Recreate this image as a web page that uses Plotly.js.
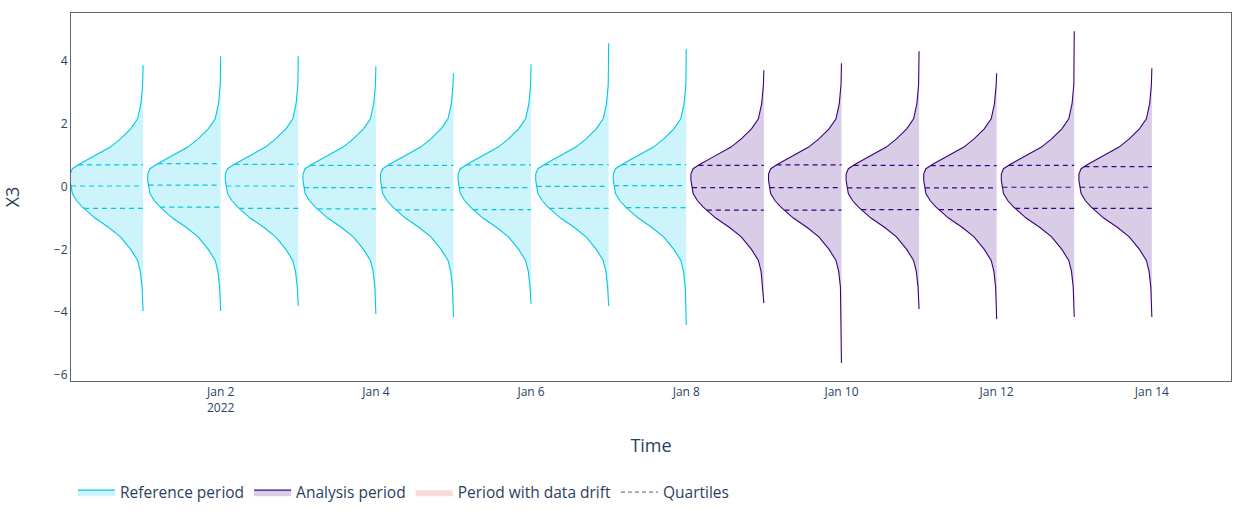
<!DOCTYPE html>
<html>
<head>
<meta charset="utf-8">
<script src="https://cdn.plot.ly/plotly-3.0.1.min.js"></script>
<style>
  html, body { margin: 0; padding: 0; background: #fff; }
  #chart { width: 1246px; height: 511px; }
</style>
</head>
<body>
<div id="chart"></div>
<script>
// chunk dates and which period each chunk belongs to
const chunkDates = [
    '2022-01-01', '2022-01-02', '2022-01-03', '2022-01-04', '2022-01-05',
    '2022-01-06', '2022-01-07', '2022-01-08', '2022-01-09', '2022-01-10',
    '2022-01-11', '2022-01-12', '2022-01-13', '2022-01-14'
];
const chunkPeriod = [
    'reference', 'reference', 'reference', 'reference', 'reference',
    'reference', 'reference', 'reference', 'analysis', 'analysis',
    'analysis', 'analysis', 'analysis', 'analysis'
];

// per chunk summary of X3
const minValues = [-3.96, -3.96, -3.80, -4.06, -4.15, -3.74, -3.80, -4.41, -3.71, -5.62, -3.90, -4.22, -4.15, -4.15];
const maxValues = [3.87, 4.15, 4.15, 3.83, 3.61, 3.90, 4.57, 4.38, 3.71, 3.93, 4.31, 3.61, 4.95, 3.77];
const q1Values = [-0.69, -0.65, -0.69, -0.71, -0.74, -0.73, -0.69, -0.67, -0.75, -0.75, -0.73, -0.73, -0.69, -0.69];
const medianValues = [0.02, 0.05, 0.02, -0.03, -0.03, -0.03, 0.01, 0.03, -0.03, -0.03, -0.04, -0.04, -0.02, -0.02];
const q3Values = [0.69, 0.73, 0.71, 0.68, 0.68, 0.69, 0.70, 0.70, 0.68, 0.69, 0.68, 0.67, 0.68, 0.64];

// density profile of the kde (relative width, 1 = widest)
const densityY = [-3.2, -2.7, -2.35, -2.0, -1.6, -1.3, -1.0, -0.65, -0.45, -0.22, 0.2, 0.4, 0.57, 0.72, 0.94, 1.26, 1.52, 1.84, 2.16, 2.64, 3.25];
const densityWidth = [0.014, 0.038, 0.075, 0.17, 0.31, 0.47, 0.66, 0.83, 0.91, 0.97, 1.0, 1.0, 0.97, 0.87, 0.70, 0.45, 0.31, 0.17, 0.075, 0.03, 0.006];

const DAY = 24 * 60 * 60 * 1000;
const violinWidth = 0.94 * DAY;

const periods = {
    reference: { name: 'Reference period', line: '#00c8e5', fill: 'rgba(0,200,229,0.2)' },
    analysis: { name: 'Analysis period', line: '#3b0280', fill: 'rgba(59,2,128,0.2)' }
};

function widthAt(y) {
    if (y <= densityY[0]) return densityWidth[0];
    for (let i = 1; i < densityY.length; i++) {
        if (y <= densityY[i]) {
            let t = (y - densityY[i - 1]) / (densityY[i] - densityY[i - 1]);
            return densityWidth[i - 1] + t * (densityWidth[i] - densityWidth[i - 1]);
        }
    }
    return densityWidth[densityWidth.length - 1];
}

function buildTraces() {
    let violins = [];
    let quartiles = {
        reference: { x: [], y: [] },
        analysis: { x: [], y: [] }
    };
    let shown = {};

    for (let i = 0; i < chunkDates.length; i++) {
        let edge = Date.parse(chunkDates[i] + 'T00:00:00Z');
        let period = chunkPeriod[i];
        let style = periods[period];

        let x = [edge];
        let y = [minValues[i]];
        for (let j = 0; j < densityY.length; j++) {
            if (densityY[j] <= minValues[i] || densityY[j] >= maxValues[i]) continue;
            x.push(edge - densityWidth[j] * violinWidth);
            y.push(densityY[j]);
        }
        x.push(edge);
        y.push(maxValues[i]);

        violins.push({
            type: 'scatter',
            mode: 'lines',
            x: x,
            y: y,
            fill: 'toself',
            fillcolor: style.fill,
            line: { color: style.line, width: 1.1 },
            name: style.name,
            legendgroup: period,
            showlegend: !shown[period],
            hoverinfo: 'skip'
        });
        shown[period] = true;

        [q1Values[i], medianValues[i], q3Values[i]].forEach(q => {
            quartiles[period].x.push(edge - widthAt(q) * violinWidth, edge, null);
            quartiles[period].y.push(q, q, null);
        });
    }

    let quartileTraces = Object.keys(quartiles).map(period => ({
        type: 'scatter',
        mode: 'lines',
        x: quartiles[period].x,
        y: quartiles[period].y,
        line: { color: periods[period].line, width: 1.2, dash: '5px,4px' },
        legendgroup: period,
        showlegend: false,
        hoverinfo: 'skip'
    }));

    let legendOnly = [
        {
            type: 'scatter',
            mode: 'lines',
            x: [null],
            y: [null],
            fill: 'toself',
            fillcolor: 'rgba(221,64,64,0.2)',
            line: { width: 0, color: 'rgba(221,64,64,0.2)' },
            name: 'Period with data drift'
        },
        {
            type: 'scatter',
            mode: 'lines',
            x: [null],
            y: [null],
            line: { color: 'grey', width: 1.2, dash: '4px,3px' },
            name: 'Quartiles'
        }
    ];

    return violins.concat(quartileTraces, legendOnly);
}

let xStart = Date.parse('2022-01-01T00:00:00Z') - 0.929 * DAY;
let xEnd = Date.parse('2022-01-15T00:00:00Z') + 0.02 * DAY;

let layout = {
    width: 1246,
    height: 511,
    paper_bgcolor: '#fff',
    plot_bgcolor: '#fff',
    font: { family: '"Open Sans", verdana, arial, sans-serif', size: 12, color: '#2a3f5f' },
    margin: { l: 71, r: 15, t: 13, b: 130, autoexpand: false },
    xaxis: {
        type: 'date',
        range: [xStart, xEnd],
        tick0: '2022-01-02',
        dtick: 2 * DAY,
        showgrid: false,
        zeroline: false,
        showline: true,
        mirror: true,
        linecolor: '#666',
        linewidth: 1,
        title: { text: 'Time', font: { size: 18 }, standoff: 24 }
    },
    yaxis: {
        range: [-6.19, 5.53],
        dtick: 2,
        showgrid: false,
        zeroline: false,
        showline: true,
        mirror: true,
        linecolor: '#666',
        linewidth: 1,
        title: { text: 'X3', font: { size: 18 }, standoff: 30 }
    },
    legend: {
        orientation: 'h',
        x: 0.0017,
        y: -0.257,
        yanchor: 'top',
        itemwidth: 37,
        font: { size: 15.5 }
    },
    showlegend: true
};

Plotly.newPlot('chart', buildTraces(), layout, { displayModeBar: false });
</script>
</body>
</html>
